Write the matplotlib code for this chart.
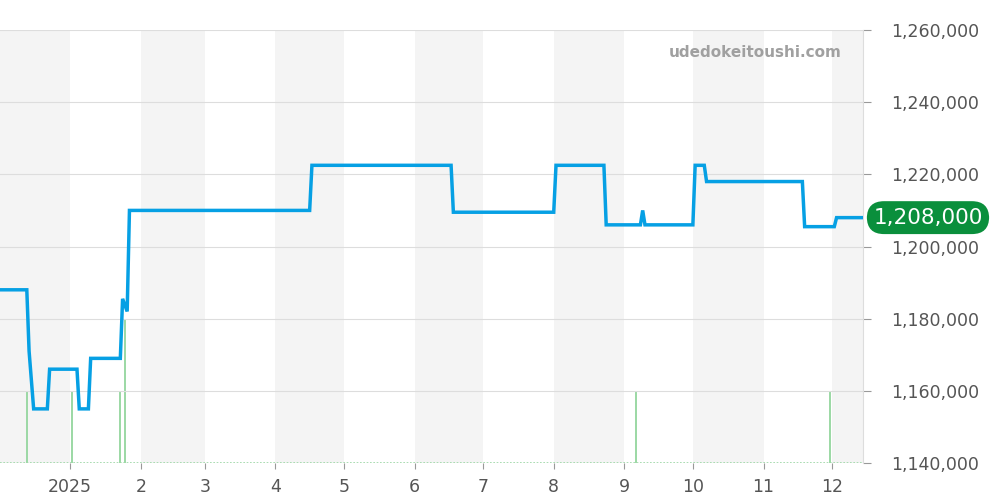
import matplotlib
matplotlib.use("Agg")
import matplotlib.pyplot as plt
import matplotlib.transforms as mtransforms
import pandas as pd

# ---- data ----
price_dates = ["2024-12-01", "2024-12-13", "2024-12-14", "2024-12-16", "2024-12-22", "2024-12-23",
               "2025-01-04", "2025-01-05", "2025-01-09", "2025-01-10", "2025-01-23", "2025-01-24",
               "2025-01-26", "2025-01-27", "2025-04-16", "2025-04-17", "2025-06-17", "2025-06-18",
               "2025-08-01", "2025-08-02", "2025-08-23", "2025-08-24", "2025-09-08", "2025-09-09",
               "2025-09-10", "2025-10-01", "2025-10-02", "2025-10-06", "2025-10-07", "2025-11-18",
               "2025-11-19", "2025-12-02", "2025-12-03", "2025-12-15"]
price_values = [1188000, 1188000, 1171000, 1155000, 1155000, 1166000,
                1166000, 1155000, 1155000, 1169000, 1169000, 1185500,
                1182000, 1210000, 1210000, 1222500, 1222500, 1209500,
                1209500, 1222500, 1222500, 1206000, 1206000, 1210000,
                1206000, 1206000, 1222500, 1222500, 1218000, 1218000,
                1205500, 1205500, 1208000, 1208000]

volume_dates = ["2024-12-13", "2025-01-02", "2025-01-23", "2025-01-25", "2025-09-06", "2025-11-30"]
volume_counts = [1, 1, 1, 2, 1, 1]

month_ticks = ["2025-01-01", "2025-02-01", "2025-03-01", "2025-04-01", "2025-05-01", "2025-06-01",
               "2025-07-01", "2025-08-01", "2025-09-01", "2025-10-01", "2025-11-01", "2025-12-01"]
month_labels = ["2025", "2", "3", "4", "5", "6", "7", "8", "9", "10", "11", "12"]

shaded_months = [("2024-12-01", "2025-01-01"), ("2025-02-01", "2025-03-01"), ("2025-04-01", "2025-05-01"),
                 ("2025-06-01", "2025-07-01"), ("2025-08-01", "2025-09-01"), ("2025-10-01", "2025-11-01"),
                 ("2025-12-01", "2026-01-01")]

y_ticks = [1140000, 1160000, 1180000, 1200000, 1220000, 1240000, 1260000]
last_price = 1208000
watermark = "udedokeitoushi.com"

# ---- figure ----
fig = plt.figure(figsize=(10, 5), dpi=100)
ax = fig.add_axes([0.0, 0.074, 0.863, 0.866])
axv = ax.twinx()
ax.set_zorder(2)
axv.set_zorder(1)
ax.patch.set_visible(False)

pd_dates = pd.to_datetime(price_dates)
v_dates = pd.to_datetime(volume_dates)

xmin = pd.Timestamp("2024-12-01 06:00")
xmax = pd.Timestamp("2025-12-14 14:00")

# shaded bands
for s, e in shaded_months:
    axv.axvspan(pd.Timestamp(s), pd.Timestamp(e), color="#f4f4f4", zorder=0, lw=0)

# volume bars
axv.vlines(v_dates, 0, volume_counts, color="#9bd8a4", lw=1.4, zorder=2)
axv.plot([xmin, xmax], [0, 0], color="#9bd8a4", lw=1.2, ls=(0, (1, 1)), zorder=2)
axv.set_ylim(0, 6)
axv.set_yticks([])
for sp in axv.spines.values():
    sp.set_visible(False)

# price line
ax.plot(pd_dates, price_values, color="#06a0e4", lw=2.5, solid_joinstyle="miter", zorder=3)

ax.set_xlim(xmin, xmax)
ax.set_ylim(1140000, 1260000)
ax.set_yticks(y_ticks)
ax.yaxis.set_major_formatter(matplotlib.ticker.FuncFormatter(lambda v, p: f"{int(v):,}"))
ax.yaxis.tick_right()
ax.grid(axis="y", color="#dddddd", lw=0.8)
ax.set_axisbelow(True)

ax.set_xticks(pd.to_datetime(month_ticks))
ax.set_xticklabels(month_labels)

ax.tick_params(axis="y", which="both", length=6, width=0.8, color="#999999",
               labelsize=12.5, labelcolor="#555555", pad=14)
ax.tick_params(axis="x", length=4, width=0.8, color="#999999",
               labelsize=12.5, labelcolor="#555555", pad=7)
for name, sp in ax.spines.items():
    sp.set_visible(False)
ax.spines["right"].set_visible(True)
ax.spines["right"].set_color("#dddddd")
ax.spines["right"].set_linewidth(0.8)

# watermark
ax.text(0.975, 0.949, watermark, transform=ax.transAxes, ha="right", va="center",
        fontsize=11, fontweight="bold", color="#a0a0a0", zorder=5)

# last price badge
trans = mtransforms.blended_transform_factory(ax.transAxes, ax.transData)
ax.text(1.0753, last_price, f"{last_price:,}", transform=trans, ha="center", va="center",
        fontsize=15.5, color="white", zorder=6, clip_on=False,
        bbox=dict(boxstyle="round,pad=0.3,rounding_size=0.8", fc="#0a8f3c", ec="none"))

fig.savefig("out.png", dpi=100)
